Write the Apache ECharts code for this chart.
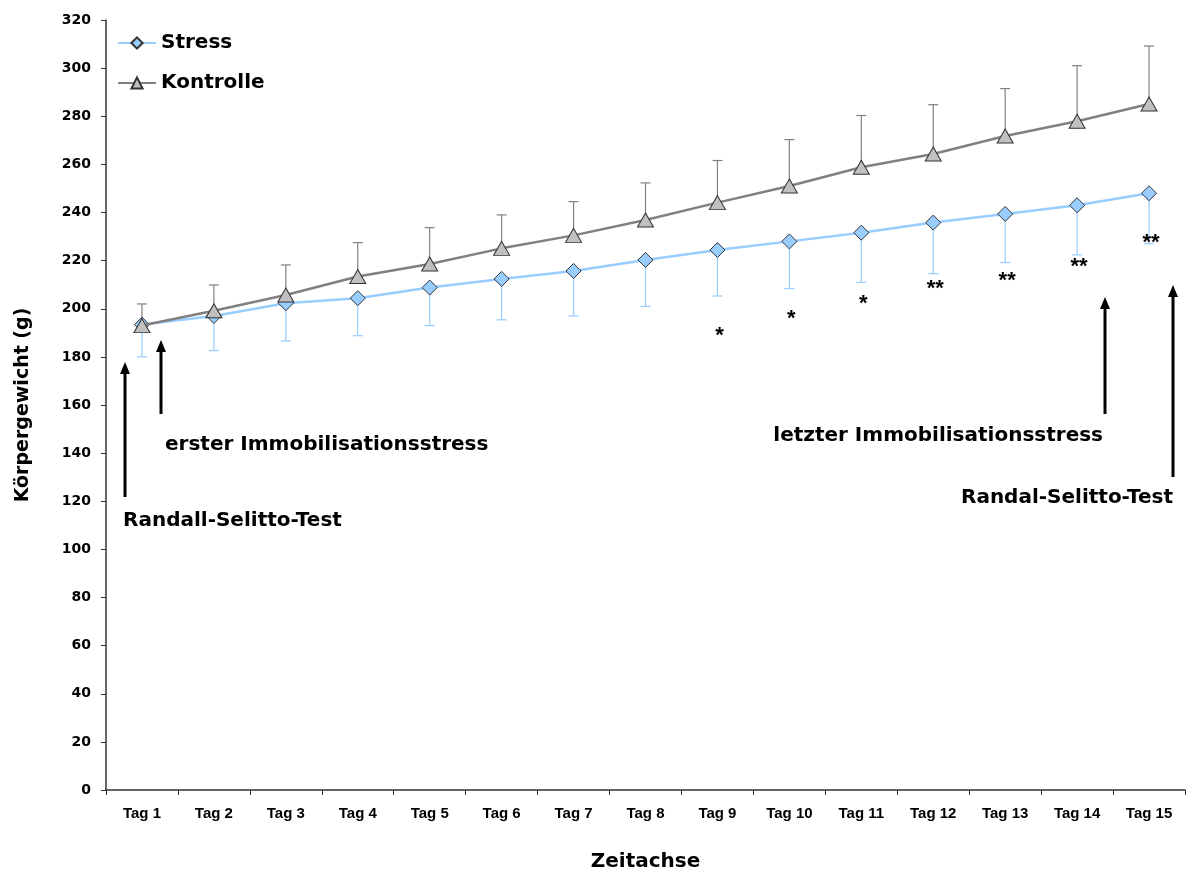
<!DOCTYPE html>
<html>
<head>
<meta charset="utf-8">
<script src="https://cdn.jsdelivr.net/npm/echarts@6/dist/echarts.min.js"></script>
<style>
  html, body { margin: 0; padding: 0; background: #fff; }
  #chart { width: 1195px; height: 873px; }
</style>
</head>
<body>
<div id="chart"></div>
<script>
// Body weight over the 15 test days
const days = ['Tag 1', 'Tag 2', 'Tag 3', 'Tag 4', 'Tag 5', 'Tag 6', 'Tag 7', 'Tag 8',
  'Tag 9', 'Tag 10', 'Tag 11', 'Tag 12', 'Tag 13', 'Tag 14', 'Tag 15'];

const stressMean = [193.4, 197.0, 202.3, 204.4, 208.8, 212.4, 215.7, 220.3,
  224.4, 228.0, 231.6, 235.8, 239.4, 243.0, 248.0];
const stressSD = [13.4, 14.4, 15.7, 15.6, 15.8, 17.0, 18.7, 19.3,
  19.1, 19.6, 20.6, 21.2, 20.2, 20.6, 21.0];

const kontrolleMean = [193.0, 199.2, 205.7, 213.4, 218.6, 225.1, 230.5, 236.9,
  244.1, 251.0, 258.8, 264.3, 271.8, 277.9, 285.1];
const kontrolleSD = [9.0, 10.7, 12.5, 14.1, 15.1, 13.9, 14.0, 15.4,
  17.5, 19.3, 21.5, 20.5, 19.7, 23.1, 24.1];

// Significance marks (Stress vs. Kontrolle) and the weight level they are written at
const sigMarks = ['', '', '', '', '', '', '', '', '*', '*', '*', '**', '**', '**', '**'];
const sigLevel = [0, 0, 0, 0, 0, 0, 0, 0, 188.8, 195.6, 202.0, 208.1, 211.7, 217.4, 227.5];

const yTicks = { min: 0, max: 320, interval: 20 };

const WIDE = '"DejaVu Sans", "Liberation Sans", Arial, sans-serif';
const SANS = '"Liberation Sans", Arial, sans-serif';
const NARROW = '"Liberation Sans Narrow", "Liberation Sans", Arial, sans-serif';
const BLUE = '#99ccff';
const GREY = '#808080';

// one-sided error bars: direction -1 draws downward, +1 upward
function errorBars(name, means, sds, dir, color) {
  return {
    type: 'custom',
    name: name + ' SD',
    data: means.map((m, i) => [i, m, m + dir * sds[i]]),
    z: 1,
    silent: true,
    renderItem: function (params, api) {
      const p0 = api.coord([api.value(0), api.value(1)]);
      const p1 = api.coord([api.value(0), api.value(2)]);
      const half = 5;
      return {
        type: 'group',
        children: [
          { type: 'line', shape: { x1: p0[0], y1: p0[1], x2: p1[0], y2: p1[1] },
            style: { stroke: color, lineWidth: 1.2 } },
          { type: 'line', shape: { x1: p1[0] - half, y1: p1[1], x2: p1[0] + half, y2: p1[1] },
            style: { stroke: color, lineWidth: 1.2 } }
        ]
      };
    }
  };
}

// significance stars written as text at a weight level above each day
function sigLabels(marks, levels) {
  return {
    type: 'custom',
    name: 'Signifikanz',
    data: marks.map((s, i) => [i, levels[i], s]).filter(d => d[2]),
    z: 5,
    silent: true,
    renderItem: function (params, api) {
      const p = api.coord([api.value(0), api.value(1)]);
      return {
        type: 'text', x: p[0] + 2, y: p[1],
        style: { text: marks[api.value(0)], font: 'bold 22px ' + SANS, fill: '#000',
          align: 'center', verticalAlign: 'middle' }
      };
    }
  };
}

function arrow(x, yTip, yEnd) {
  return {
    type: 'group',
    children: [
      { type: 'line', shape: { x1: x, y1: yTip + 8, x2: x, y2: yEnd },
        style: { stroke: '#000', lineWidth: 3 } },
      { type: 'polygon', shape: { points: [[x, yTip], [x - 5, yTip + 12], [x + 5, yTip + 12]] },
        style: { fill: '#000' } }
    ]
  };
}

function note(text, x, midY, align) {
  return {
    type: 'text', x: x, y: midY,
    style: { text: text, font: 'bold 20px ' + WIDE, fill: '#000',
      align: align || 'left', verticalAlign: 'middle' }
  };
}

const chart = echarts.init(document.getElementById('chart'), null, { renderer: 'canvas' });

chart.setOption({
  animation: false,
  backgroundColor: '#fff',
  grid: { left: 106, right: 10, top: 20, bottom: 83, outerBoundsMode: 'none', containLabel: false },
  legend: {
    left: 112, top: 28, orient: 'vertical', itemGap: 20,
    itemWidth: 38, itemHeight: 14,
    textStyle: { fontFamily: WIDE, fontWeight: 'bold', fontSize: 20, color: '#000' },
    data: ['Stress', 'Kontrolle']
  },
  xAxis: {
    type: 'category', data: days, boundaryGap: true,
    name: 'Zeitachse', nameLocation: 'middle', nameGap: 62,
    nameTextStyle: { fontFamily: WIDE, fontWeight: 'bold', fontSize: 20, color: '#000' },
    axisLine: { lineStyle: { color: '#333', width: 1.5 } },
    axisTick: { show: true, length: 5, lineStyle: { color: '#333' } },
    axisLabel: { fontFamily: NARROW, fontWeight: 'bold', fontSize: 15, color: '#000', margin: 16 }
  },
  yAxis: {
    type: 'value', min: yTicks.min, max: yTicks.max, interval: yTicks.interval,
    name: 'Körpergewicht (g)', nameLocation: 'middle', nameGap: 73, nameRotate: 90,
    nameTextStyle: { fontFamily: WIDE, fontWeight: 'bold', fontSize: 19, color: '#000' },
    axisLine: { show: true, lineStyle: { color: '#333', width: 1.5 } },
    axisTick: { show: true, length: 5, lineStyle: { color: '#333' } },
    splitLine: { show: false },
    axisLabel: { fontFamily: WIDE, fontWeight: 'bold', fontSize: 14, color: '#000', margin: 15 }
  },
  series: [
    errorBars('Stress', stressMean, stressSD, -1, BLUE),
    errorBars('Kontrolle', kontrolleMean, kontrolleSD, 1, GREY),
    {
      name: 'Stress', type: 'line', data: stressMean, z: 3,
      symbol: 'diamond', symbolSize: 15,
      lineStyle: { color: BLUE, width: 2.5 },
      itemStyle: { color: BLUE, borderColor: '#333', borderWidth: 1 }
    },
    {
      name: 'Kontrolle', type: 'line', data: kontrolleMean, z: 4,
      symbol: 'triangle', symbolSize: [16, 14],
      lineStyle: { color: GREY, width: 2.5 },
      itemStyle: { color: '#c0c0c0', borderColor: '#333', borderWidth: 1 }
    },
    sigLabels(sigMarks, sigLevel)
  ],
  graphic: [
    arrow(125, 362, 497),
    arrow(161, 340, 414),
    arrow(1105, 297, 414),
    arrow(1173, 285, 477),
    note('erster Immobilisationsstress', 165, 445),
    note('Randall-Selitto-Test', 123, 521),
    note('letzter Immobilisationsstress', 1103, 436, 'right'),
    note('Randal-Selitto-Test', 1173, 498, 'right')
  ]
});
</script>
</body>
</html>
